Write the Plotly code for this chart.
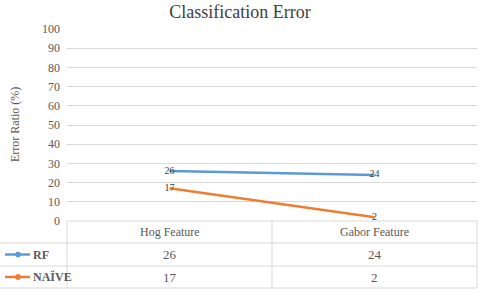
import plotly.graph_objects as go

categories = ["Hog Feature", "Gabor Feature"]
series_names = ["RF", "NAÏVE"]
rf_values = [26, 24]
naive_values = [17, 2]
y_ticks = [0, 10, 20, 30, 40, 50, 60, 70, 80, 90, 100]

colors = ["#5B9BD5", "#ED7D31"]
series_values = [rf_values, naive_values]

W, H = 480, 293
def py(p):  # pixel y -> paper
    return 1 - p / H
def px(p):
    return p / W

SERIF = "Times New Roman, Liberation Serif, serif"
GRID = "#D9D9D9"
TXT = "#595959"

fig = go.Figure()
for name, vals, c in zip(series_names, series_values, colors):
    fig.add_trace(go.Scatter(
        x=categories, y=vals, name=name, mode="lines+text",
        line=dict(color=c, width=2.5),
        text=[str(v) for v in vals], textposition="middle center",
        textfont=dict(family=SERIF, size=10, color="#404040"),
        showlegend=False, cliponaxis=False,
    ))

shapes = []
ann = []
x_left, x_mid, x_right = 67, 272, 477
row_edges = [221, 243, 266, 288]
shapes.append(dict(type="line", xref="paper", yref="paper", x0=px(x_left), x1=px(x_right),
                   y0=py(row_edges[0]), y1=py(row_edges[0]), line=dict(color=GRID, width=1)))
for r in row_edges[1:]:
    shapes.append(dict(type="line", xref="paper", yref="paper", x0=0, x1=px(x_right),
                       y0=py(r), y1=py(r), line=dict(color=GRID, width=1)))
for xv in [x_left, x_mid, x_right]:
    shapes.append(dict(type="line", xref="paper", yref="paper", x0=px(xv), x1=px(xv),
                       y0=py(row_edges[0]), y1=py(row_edges[-1]), line=dict(color=GRID, width=1)))

for cat in categories:
    ann.append(dict(x=cat, xref="x", y=py((row_edges[0] + row_edges[1]) / 2), yref="paper",
                    xanchor="center", yanchor="middle",
                    text=cat, showarrow=False, font=dict(family=SERIF, size=12, color=TXT)))
for i, (name, vals, c) in enumerate(zip(series_names, series_values, colors)):
    yc = py((row_edges[i + 1] + row_edges[i + 2]) / 2)
    for cat, v in zip(categories, vals):
        ann.append(dict(x=cat, xref="x", y=yc, yref="paper", text=str(v), showarrow=False,
                        xanchor="center", yanchor="middle",
                        font=dict(family=SERIF, size=13, color=TXT)))
    shapes.append(dict(type="line", xref="paper", yref="paper", x0=px(5), x1=px(30),
                       y0=yc, y1=yc, line=dict(color=c, width=2.5)))
    shapes.append(dict(type="circle", xref="paper", yref="paper", x0=px(15.5), x1=px(20.5),
                       y0=yc - 2.5 / H, y1=yc + 2.5 / H, fillcolor=c, line=dict(color=c, width=1)))
    ann.append(dict(x=px(31), xref="paper", y=yc, yref="paper", text="<b>" + name + "</b>",
                    showarrow=False, xanchor="left", yanchor="middle",
                    font=dict(family=SERIF, size=12, color=TXT)))

ann.append(dict(x=px(15), xref="paper", y=py(125), yref="paper", text="Error Ratio (%)",
                xanchor="center", yanchor="middle",
                textangle=-90, showarrow=False, font=dict(family=SERIF, size=12, color=TXT)))

fig.update_layout(
    width=W, height=H, margin=dict(l=0, r=0, t=0, b=0, autoexpand=False),
    paper_bgcolor="white", plot_bgcolor="white",
    title=dict(text="Classification Error", x=0.5, xanchor="center", y=py(12), yanchor="middle",
               font=dict(family=SERIF, size=18, color="#404040")),
    xaxis=dict(domain=[px(x_left), px(x_right)], range=[-0.5, 1.5], showticklabels=False,
               showgrid=False, zeroline=False, showline=False, fixedrange=True, automargin=False),
    yaxis=dict(domain=[py(221), py(29)], range=[0, 100], tickvals=y_ticks, showgrid=True,
               gridcolor=GRID, gridwidth=1, zeroline=False, showline=False, automargin=False,
               tickfont=dict(family=SERIF, size=12, color=TXT), ticks="", ticklabelstandoff=6,
               fixedrange=True),
    shapes=shapes, annotations=ann,
)
fig.write_html("out.html", config={"displayModeBar": False, "staticPlot": True},
               post_script="document.body.style.margin='0';document.body.style.overflow='hidden';")
